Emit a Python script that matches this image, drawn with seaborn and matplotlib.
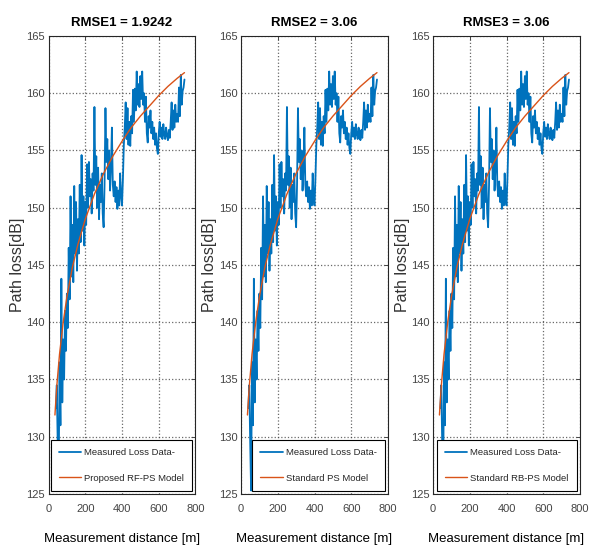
import numpy as np
import pandas as pd
import matplotlib
matplotlib.use("Agg")
import matplotlib.pyplot as plt
import seaborn as sns

# ---- data ----
distance_m = [40, 45, 50, 55, 60, 65, 70, 75, 80, 85, 90, 95, 100,
              105, 110, 115, 120, 125, 130, 135, 140, 145, 150, 155, 160, 165, 170, 175, 180, 185, 190, 195, 200,
              205, 210, 215, 220, 225, 230, 235, 240, 245, 250, 255, 260, 265, 270, 275, 280, 285, 290, 295, 300,
              305, 310, 315, 320, 325, 330, 335, 340, 345, 350, 355, 360, 365, 370, 375, 380, 385, 390, 395, 400,
              405, 410, 415, 420, 425, 430, 435, 440, 445, 450, 455, 460, 465, 470, 475, 480, 485, 490, 495, 500,
              505, 510, 515, 520, 525, 530, 535, 540, 545, 550, 555, 560, 565, 570, 575, 580, 585, 590, 595, 600,
              605, 610, 615, 620, 625, 630, 635, 640, 645, 650, 655, 660, 665, 670, 675, 680, 685, 690, 695, 700,
              705, 710, 715, 720, 725, 730, 735, 740]
measured_db = [132.5, 134.5, 129.5, 125.3, 136.5, 131.0, 143.8, 133.0, 138.5, 135.0, 141.0, 137.5, 142.5,
               139.5, 146.5, 142.0, 151.0, 144.0, 148.5, 143.5, 151.9, 146.0, 150.5, 144.5, 149.0, 146.0, 152.0, 147.0, 154.6, 148.0, 151.0, 146.7, 150.5,
               148.5, 153.8, 150.0, 154.0, 151.0, 152.5, 149.5, 153.0, 151.5, 158.8, 152.0, 154.5, 150.0, 153.5, 149.0, 152.0, 150.5, 153.0, 149.5, 148.3,
               152.0, 158.7, 154.0, 156.0, 152.5, 155.0, 151.5, 153.5, 157.0, 152.0, 151.0, 152.3, 150.5, 151.8, 149.9, 151.5, 150.2, 153.0, 151.0, 150.2,
               152.5, 155.5, 157.0, 159.2, 156.0, 158.7, 155.5, 157.5, 155.4, 158.0, 156.5, 160.3, 157.5, 160.4, 158.5, 161.9, 159.0, 160.8, 158.8, 161.5,
               159.5, 161.9, 159.0, 160.0, 157.5, 159.7, 156.5, 155.7, 158.0, 157.0, 158.5, 156.5, 157.5, 156.0, 157.0, 155.5, 156.5, 155.2, 154.7, 156.5,
               157.5, 156.2, 157.0, 156.0, 157.3, 156.4, 156.0, 157.0, 156.3, 155.9, 156.8, 156.1, 157.5, 159.2, 156.8, 158.5, 157.0, 159.0, 157.5, 158.2,
               157.5, 160.5, 158.0, 161.6, 159.0, 160.2, 160.5, 161.2]
fit_distance_m = [35, 45, 60, 80, 100, 130, 160, 200, 250, 300, 350, 400, 450, 500, 550, 600, 650, 700, 740]
fit_db = [131.9, 134.4, 137.2, 140.0, 142.2, 144.8, 146.8, 149.0, 151.2, 153.0, 154.5, 155.8, 157.0, 158.0,
          158.9, 159.8, 160.6, 161.3, 161.8]

panel_titles = ["RMSE1 = 1.9242", "RMSE2 = 3.06", "RMSE3 = 3.06"]
model_labels = ["Proposed RF-PS Model", "Standard PS Model", "Standard RB-PS Model"]
measured_label = "Measured Loss Data-"
x_ticks = [0, 200, 400, 600, 800]
y_ticks = [125, 130, 135, 140, 145, 150, 155, 160, 165]
x_label = "Measurement distance [m]"
y_label = "Path loss[dB]"

measured = pd.DataFrame({"d": distance_m, "pl": measured_db})
fitted = pd.DataFrame({"d": fit_distance_m, "pl": fit_db})

sns.set_theme(style="white")
plt.rcParams['font.family'] = ['Liberation Sans', 'DejaVu Sans']

BLUE = "#0072BD"
ORANGE = "#D95319"
AXC = "#262626"

fig = plt.figure(figsize=(5.89, 5.5), dpi=100)
W_PX = 147
lefts_px = [48.5, 241, 433]
b = (550 - 494) / 550
h = 458 / 550

for i in range(3):
    ax = fig.add_axes([lefts_px[i] / 589, b, W_PX / 589, h])
    sns.lineplot(data=measured, x="d", y="pl", ax=ax, color=BLUE, lw=1.3,
                 estimator=None, sort=False, label=measured_label)
    sns.lineplot(data=fitted, x="d", y="pl", ax=ax, color=ORANGE, lw=1.0,
                 estimator=None, sort=False, label=model_labels[i])
    ax.set_xlim(0, 800)
    ax.set_ylim(125, 165)
    ax.set_xticks(x_ticks)
    ax.set_yticks(y_ticks)
    ax.tick_params(direction="in", top=True, right=True, length=3, width=0.7,
                   labelsize=8, colors="#444444")
    ax.tick_params(axis="x", pad=7)
    ax.tick_params(axis="y", pad=2.5)
    ax.grid(True, linestyle=":", color="#444444", lw=0.9, alpha=0.8)
    for s in ax.spines.values():
        s.set_color(AXC)
        s.set_linewidth(0.8)
    ax.set_title(panel_titles[i], fontsize=9.5, fontweight="bold", color="black", pad=7)
    ax.set_xlabel(x_label, fontsize=9.5, color="black", labelpad=14)
    ax.set_ylabel(y_label, fontsize=11.5, color="#333333")
    ax.yaxis.set_label_coords(-23.5 / W_PX, 0.5)
    leg = ax.legend(loc="lower right", fontsize=6.8, frameon=True, fancybox=False,
                    edgecolor="black", handlelength=2.4, borderaxespad=0.35,
                    labelspacing=1.75, borderpad=0.85, handletextpad=0.3)
    leg.get_frame().set_linewidth(0.8)
    leg.get_frame().set_alpha(1.0)

fig.savefig("out.png", dpi=100)
